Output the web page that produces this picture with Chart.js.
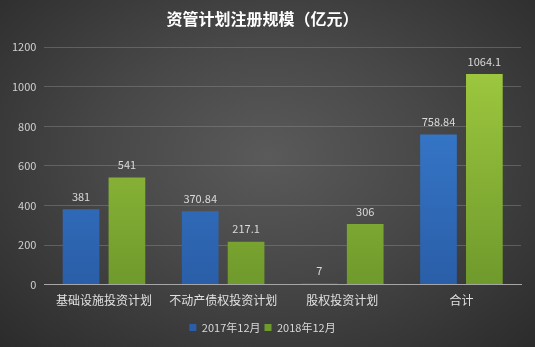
<!DOCTYPE html>
<html>
<head>
<meta charset="utf-8">
<script src="https://cdn.jsdelivr.net/npm/chart.js@4/dist/chart.umd.min.js"></script>
<style>
  html, body { margin: 0; padding: 0; }
  body {
    width: 535px; height: 347px; overflow: hidden;
    background: radial-gradient(ellipse at 50% 45%, #5a5a5a 0%, #474747 45%, #2b2b2b 100%);
  }
  #wrap { position: relative; width: 535px; height: 347px; }
</style>
</head>
<body>
<div id="wrap"><canvas id="chart" width="535" height="347"></canvas></div>
<script>
const categories = ['基础设施投资计划', '不动产债权投资计划', '股权投资计划', '合计'];
const seriesNames = ['2017年12月', '2018年12月'];
const values2017 = [381, 370.84, 7, 758.84];
const values2018 = [541, 217.1, 306, 1064.1];
const yTicks = [0, 200, 400, 600, 800, 1000, 1200];

const FONT = '"Noto Sans CJK SC", "Noto Sans", sans-serif';

function barGradient(ctx, top, bottom) {
  const chart = ctx.chart;
  const area = chart.chartArea;
  if (!area) return top;
  const g = chart.ctx.createLinearGradient(0, area.top, 0, area.bottom);
  g.addColorStop(0, top);
  g.addColorStop(1, bottom);
  return g;
}

const valueLabels = {
  id: 'valueLabels',
  afterDatasetsDraw(chart) {
    const ctx = chart.ctx;
    ctx.save();
    ctx.font = '11px ' + FONT;
    ctx.fillStyle = '#d9d9d9';
    ctx.textAlign = 'center';
    ctx.textBaseline = 'bottom';
    chart.data.datasets.forEach((ds, i) => {
      chart.getDatasetMeta(i).data.forEach((bar, j) => {
        ctx.fillText(String(ds.data[j]), bar.x, bar.y - 7);
      });
    });
    ctx.restore();
  }
};

new Chart(document.getElementById('chart'), {
  type: 'bar',
  data: {
    labels: categories,
    datasets: [
      { label: seriesNames[0], data: values2017,
        backgroundColor: (c) => barGradient(c, '#3b82d6', '#2a5ea8') },
      { label: seriesNames[1], data: values2018,
        backgroundColor: (c) => barGradient(c, '#a2cc40', '#6f9a2c') },
    ],
  },
  options: {
    responsive: false,
    animation: false,
    devicePixelRatio: 1,
    layout: { padding: { left: 4, right: 14, top: 0, bottom: 4 } },
    datasets: { bar: { categoryPercentage: 0.77, barPercentage: 0.8 } },
    plugins: {
      title: {
        display: true,
        text: '资管计划注册规模（亿元）',
        color: '#ffffff',
        font: { family: FONT, size: 16, weight: 'bold' },
        padding: { top: 9, bottom: 19 },
      },
      legend: {
        position: 'bottom',
        labels: {
          color: '#d9d9d9',
          font: { family: FONT, size: 11 },
          boxWidth: 7, boxHeight: 7, padding: 4,
        },
      },
      tooltip: { enabled: false },
    },
    scales: {
      x: {
        afterFit: (axis) => { axis.height += 1; },
        grid: { display: false, drawTicks: false },
        border: { color: '#a6a6a6', width: 1 },
        ticks: { color: '#e0e0e0', font: { family: FONT, size: 12 }, padding: 9 },
      },
      y: {
        min: 0, max: 1200,
        afterBuildTicks: (axis) => { axis.ticks = yTicks.map((v) => ({ value: v })); },
        grid: { color: 'rgba(140,140,140,0.45)', drawTicks: false },
        border: { display: false },
        ticks: {
          color: '#d0d0d0', font: { family: FONT, size: 11 }, padding: 8,
          callback: (v) => String(v),
        },
      },
    },
  },
  plugins: [valueLabels],
});
</script>
</body>
</html>
